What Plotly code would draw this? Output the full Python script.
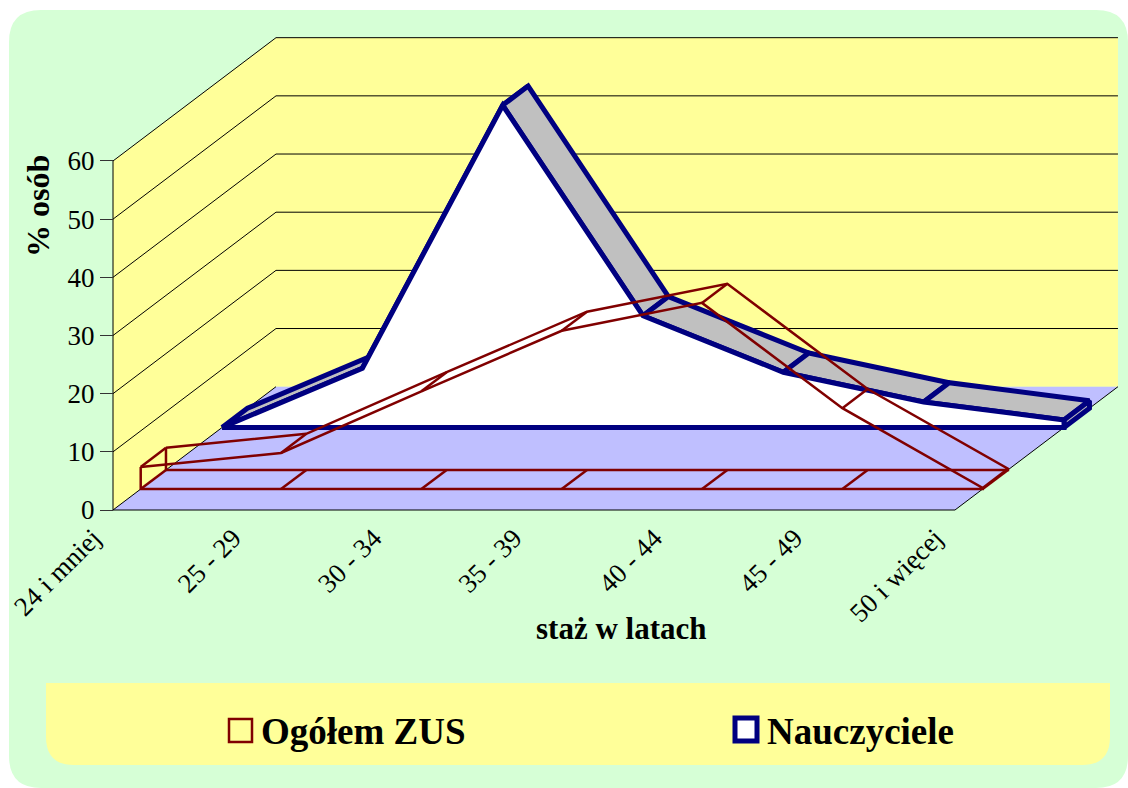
import plotly.graph_objects as go

# ---- data ----
categories = ["24 i mniej", "25 - 29", "30 - 34", "35 - 39", "40 - 44", "45 - 49", "50 i więcej"]
y_ticks = [0, 10, 20, 30, 40, 50, 60]
zus_values = [3.8, 6.2, 16.8, 27.2, 32.0, 13.9, 0.2]
naucz_values = [0.0, 10.2, 55.4, 19.2, 9.5, 4.4, 1.3]
zus_name = "Ogółem ZUS"
naucz_name = "Nauczyciele"
x_title = "staż w latach"
y_title = "% osób"

# ---- oblique 3-D style ----
W, H = 1128, 788
X0, Y0 = 113.0, 510.0          # pixel of category 0, value 0, depth 0
PX_CAT, PX_VAL = 140.33, 5.817 # pixels per category / per value unit
DEPTH_X, DEPTH_Y = 163.0, 123.3
zus_depth = (0.17, 0.325)
naucz_depth = (0.669, 0.825)
MINT, YELLOW, FLOOR = "#D6FFD6", "#FFFF99", "#BFBFFF"
NAVY, RED, GREY = "#000080", "#800000", "#C0C0C0"
FONT = "Liberation Serif"


def proj(cat, val, d):
    """Oblique projection of (category, value, depth) onto the flat axes."""
    return cat + d * DEPTH_X / PX_CAT, val + d * DEPTH_Y / PX_VAL


def poly(points, **kw):
    xs, ys = zip(*[proj(*p) for p in points])
    return go.Scatter(x=list(xs), y=list(ys), mode="lines", hoverinfo="skip",
                      showlegend=False, **kw)


def fx(px):
    return px / W


def fy(py):
    return 1 - py / H


def rounded(x0, y0, x1, y1, rtl, rtr, rbr, rbl):
    """Paper-coordinate path of a rectangle given in pixels with rounded corners."""
    def P(x, y):
        return f"{fx(x):.5f},{fy(y):.5f}"
    return (f"M{P(x0 + rtl, y0)} L{P(x1 - rtr, y0)} Q{P(x1, y0)} {P(x1, y0 + rtr)} "
            f"L{P(x1, y1 - rbr)} Q{P(x1, y1)} {P(x1 - rbr, y1)} L{P(x0 + rbl, y1)} "
            f"Q{P(x0, y1)} {P(x0, y1 - rbl)} L{P(x0, y0 + rtl)} Q{P(x0, y0)} {P(x0 + rtl, y0)} Z")


n = len(categories)
last = n - 1
top = max(y_ticks)
traces = []

# walls and floor
traces.append(poly([(0, 0, 0), (0, top, 0), (0, top, 1), (last, top, 1), (last, 0, 1), (0, 0, 1)],
                   fill="toself", fillcolor=YELLOW, line=dict(width=0)))
traces.append(poly([(0, 0, 0), (last, 0, 0), (last, 0, 1), (0, 0, 1)],
                   fill="toself", fillcolor=FLOOR, line=dict(width=0)))
for v in y_ticks[1:]:
    traces.append(poly([(0, v, 0), (0, v, 1), (last, v, 1)], line=dict(color="black", width=1)))
traces.append(poly([(0, 0, 1), (0, 0, 0), (last, 0, 0), (last, 0, 1)], line=dict(color="black", width=1)))
traces.append(poly([(0, 0, 0), (0, top, 0)], line=dict(color="black", width=1)))

# Nauczyciele: solid ribbon
d0, d1 = naucz_depth
NW = 5
for i in range(last):
    traces.append(poly([(i, naucz_values[i], d0), (i + 1, naucz_values[i + 1], d0),
                        (i + 1, naucz_values[i + 1], d1), (i, naucz_values[i], d1),
                        (i, naucz_values[i], d0)],
                       fill="toself", fillcolor=GREY, line=dict(color=NAVY, width=NW)))
traces.append(poly([(last, naucz_values[last], d0), (last, naucz_values[last], d1),
                    (last, 0, d1), (last, 0, d0), (last, naucz_values[last], d0)],
                   fill="toself", fillcolor=GREY, line=dict(color=NAVY, width=NW)))
front = [(i, naucz_values[i], d0) for i in range(n)]
traces.append(poly(front + [(last, 0, d0), (0, 0, d0), front[0]],
                   fill="toself", fillcolor="white", line=dict(color=NAVY, width=NW)))

# Ogółem ZUS: wireframe
d0, d1 = zus_depth
RW = 2.5
for d in (d1, d0):
    outline = [(i, zus_values[i], d) for i in range(n)]
    traces.append(poly(outline + [(last, 0, d), (0, 0, d), outline[0]],
                       line=dict(color=RED, width=RW)))
for i in range(n):
    traces.append(poly([(i, zus_values[i], d0), (i, zus_values[i], d1)], line=dict(color=RED, width=RW)))
    traces.append(poly([(i, 0, d0), (i, 0, d1)], line=dict(color=RED, width=RW)))

fig = go.Figure(traces)

shapes = [
    dict(type="path", xref="paper", yref="paper", layer="below", line=dict(width=0), fillcolor=MINT,
         path=rounded(9, 10, 1128, 788, 32, 32, 32, 32)),
    dict(type="path", xref="paper", yref="paper", layer="below", line=dict(width=0), fillcolor=YELLOW,
         path=rounded(46, 683, 1110, 765, 0, 0, 28, 28)),
    dict(type="rect", xref="paper", yref="paper", x0=fx(229), x1=fx(252), y0=fy(742), y1=fy(719),
         line=dict(color=RED, width=2.5), fillcolor="rgba(0,0,0,0)"),
    dict(type="rect", xref="paper", yref="paper", x0=fx(735), x1=fx(757), y0=fy(741), y1=fy(718),
         line=dict(color=NAVY, width=5), fillcolor="white"),
]


def label(text, px, py, size, angle=0, anchor="center"):
    return dict(text=f"<b>{text}</b>", xref="paper", yref="paper", x=fx(px), y=fy(py), showarrow=False,
                textangle=angle, xanchor=anchor, yanchor="middle",
                font=dict(family=FONT, size=size, color="black"))


annotations = [
    label(x_title, 621, 628, 31),
    label(y_title, 38, 206, 32, angle=-90),
    label(zus_name, 259, 731, 37, anchor="left"),
    label(naucz_name, 765, 731, 37, anchor="left"),
]

fig.update_layout(
    width=W, height=H, autosize=False,
    margin=dict(l=0, r=0, t=0, b=0, pad=0),
    paper_bgcolor="white", plot_bgcolor="rgba(0,0,0,0)",
    showlegend=False, shapes=shapes, annotations=annotations,
    font=dict(family=FONT, color="black"),
    xaxis=dict(range=[-X0 / PX_CAT, (W - X0) / PX_CAT], domain=[0, 1], anchor="free", position=fy(Y0),
               tickmode="array", tickvals=list(range(n)), ticktext=categories, tickangle=-45,
               ticks="", tickfont=dict(family=FONT, size=27), ticklabelstandoff=6, ticklabelshift=-20,
               showgrid=False, zeroline=False, showline=False, fixedrange=True),
    yaxis=dict(range=[(Y0 - H) / PX_VAL, Y0 / PX_VAL], domain=[0, 1], anchor="free", position=fx(X0),
               tickmode="array", tickvals=y_ticks, ticks="outside", ticklen=13, tickwidth=1, tickcolor="#333",
               tickfont=dict(family=FONT, size=27), showgrid=False, zeroline=False, showline=False,
               fixedrange=True),
)

fig.write_html("out.html", config=dict(displayModeBar=False),
               post_script="document.body.style.margin='0';document.documentElement.style.overflow='hidden';")
